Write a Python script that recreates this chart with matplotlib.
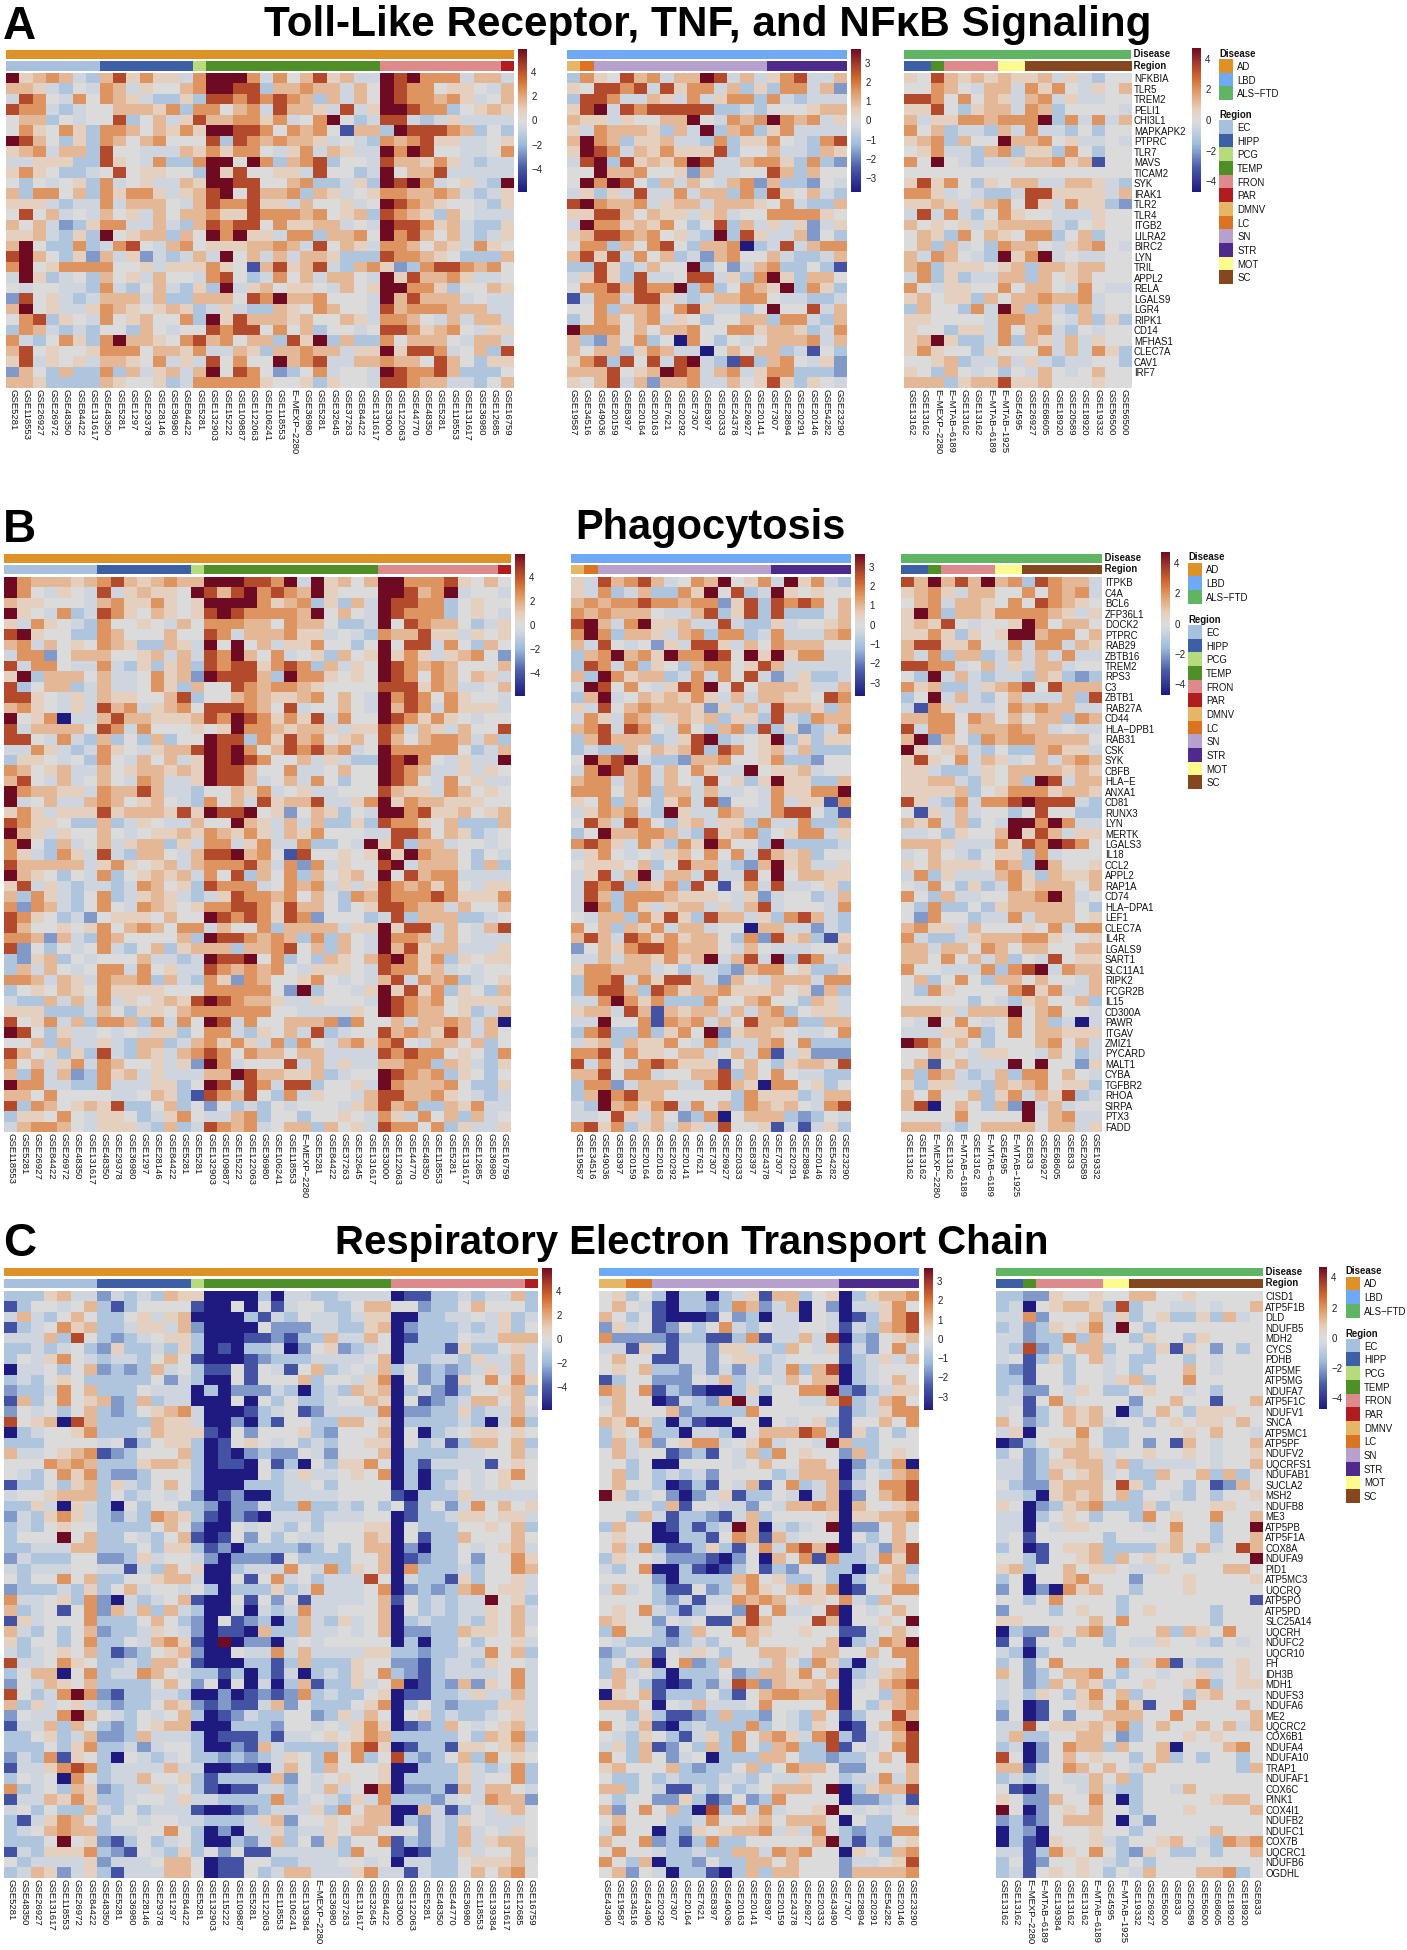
"""Three panels of pathway heatmaps across AD, LBD and ALS-FTD datasets."""

import matplotlib

matplotlib.use("Agg")
import matplotlib.pyplot as plt
import numpy as np
from matplotlib.colors import LinearSegmentedColormap, ListedColormap

W, H = 1407, 1950

# cell levels, as a share of each heatmap's colour range
LEVELS = {"0": -1.0, "1": -0.7, "2": -0.45, "3": -0.25, "4": -0.1, "5": 0.0,
          "6": 0.12, "7": 0.25, "8": 0.42, "9": 0.72, "x": 1.0}

DISEASE = {"AD": "#DE9127", "LBD": "#6FA8F5", "ALS-FTD": "#5FB562"}
REGION = {"EC": "#A6C0DE", "HIPP": "#3D5FA6", "PCG": "#B5DB7C", "TEMP": "#4F8F27",
          "FRON": "#DC8A8C", "PAR": "#B01C20", "DMNV": "#E5B666", "LC": "#DB7422",
          "SN": "#B8A0CE", "STR": "#4D2A8C", "MOT": "#FBFB8E", "SC": "#85471F"}

A_ROWS = ["NFKBIA", "TLR5", "TREM2", "PELI1", "CHI3L1", "MAPKAPK2", "PTPRC", "TLR7", "MAVS", "TICAM2",
          "SYK", "IRAK1", "TLR2", "TLR4", "ITGB2", "LILRA2", "BIRC2", "LYN", "TRIL", "APPL2", "RELA",
          "LGALS9", "LGR4", "RIPK1", "CD14", "MFHAS1", "CLEC7A", "CAV1", "IRF7", ""]
B_ROWS = ["ITPKB", "C4A", "BCL6", "ZFP36L1", "DOCK2", "PTPRC", "RAB29", "ZBTB16", "TREM2", "RPS3", "C3",
          "ZBTB1", "RAB27A", "CD44", "HLA-DPB1", "RAB31", "CSK", "SYK", "CBFB", "HLA-E", "ANXA1", "CD81",
          "RUNX3", "LYN", "MERTK", "LGALS3", "IL18", "CCL2", "APPL2", "RAP1A", "CD74", "HLA-DPA1", "LEF1",
          "CLEC7A", "IL4R", "LGALS9", "SART1", "SLC11A1", "RIPK2", "FCGR2B", "IL15", "CD300A", "PAWR",
          "ITGAV", "ZMIZ1", "PYCARD", "MALT1", "CYBA", "TGFBR2", "RHOA", "SIRPA", "PTX3", "FADD"]
C_ROWS = ["CISD1", "ATP5F1B", "DLD", "NDUFB5", "MDH2", "CYCS", "PDHB", "ATP5MF", "ATP5MG", "NDUFA7",
          "ATP5F1C", "NDUFV1", "SNCA", "ATP5MC1", "ATP5PF", "NDUFV2", "UQCRFS1", "NDUFAB1", "SUCLA2",
          "MSH2", "NDUFB8", "ME3", "ATP5PB", "ATP5F1A", "COX8A", "NDUFA9", "PID1", "ATP5MC3", "UQCRQ",
          "ATP5PO", "ATP5PD", "SLC25A14", "UQCRH", "NDUFC2", "UQCR10", "FH", "IDH3B", "MDH1", "NDUFS3",
          "NDUFA6", "ME2", "UQCRC2", "COX6B1", "NDUFA4", "NDUFA10", "TRAP1", "NDUFAF1", "COX6C", "PINK1",
          "COX4I1", "NDUFB2", "NDUFC1", "COX7B", "UQCRC1", "NDUFB6", "OGDHL"]

A_LEFT_COLS = "5281 118553 26927 26972 48350 84422 131617 48350 5281 1297 29378 28146 36980 84422 5281 132903 15222 109887 122063 106241 118553 E-MEXP-2280 36980 5281 32645 37263 84422 131617 33000 122063 44770 48350 5281 118553 131617 36980 12685 16759".split()
A_MID_COLS = "19587 34516 49036 20159 8397 20164 20163 7621 20292 7307 8397 20333 24378 26927 20141 7307 28894 20291 20146 54282 23290".split()
A_RIGHT_COLS = "13162 13162 E-MEXP-2280 E-MTAB-6189 13162 13162 E-MTAB-6189 E-MTAB-1925 4595 26927 68605 18920 20589 18920 19332 56500 56500".split()
B_LEFT_COLS = "118553 5281 26927 84422 26972 48350 131617 48350 29378 36980 1297 28146 84422 5281 5281 132903 109887 15222 122063 36980 106241 118553 E-MEXP-2280 5281 84422 37263 32645 131617 33000 122063 44770 48350 118553 5281 131617 12685 36980 16759".split()
B_MID_COLS = "19587 34516 49036 8397 20159 20164 20163 20292 20141 7621 7307 26927 20333 8397 24378 7307 20291 28894 20146 54282 23290".split()
B_RIGHT_COLS = "13162 13162 E-MEXP-2280 13162 E-MTAB-6189 13162 E-MTAB-6189 4595 E-MTAB-1925 833 26927 68605 833 20589 19332".split()
C_LEFT_COLS = "5281 48350 26927 131617 118553 26972 84422 48350 5281 36980 28146 29378 1297 84422 5281 132903 15222 109887 5281 122063 118553 106241 139384 E-MEXP-2280 36980 37263 131617 32645 84422 33000 122063 5281 48350 44770 36980 118553 139384 131617 12685 16759".split()
C_MID_COLS = "43490 19587 34516 43490 20292 7307 20164 7621 8397 49036 20163 20141 8397 20159 24378 26927 20333 43490 7307 28894 20291 54282 20146 23290".split()
C_RIGHT_COLS = "13162 13162 E-MEXP-2280 E-MTAB-6189 139384 13162 13162 E-MTAB-6189 4595 E-MTAB-1925 19332 26927 56500 833 20589 56500 68605 18920 18920 833".split()

A_LEFT_REG = [("EC", 7), ("HIPP", 7), ("PCG", 1), ("TEMP", 13), ("FRON", 9), ("PAR", 1)]
A_MID_REG = [("DMNV", 1), ("LC", 1), ("SN", 13), ("STR", 6)]
A_RIGHT_REG = [("HIPP", 2), ("TEMP", 1), ("FRON", 4), ("MOT", 2), ("SC", 8)]
B_RIGHT_REG = [("HIPP", 2), ("TEMP", 1), ("FRON", 4), ("MOT", 2), ("SC", 6)]
C_LEFT_REG = [("EC", 7), ("HIPP", 7), ("PCG", 1), ("TEMP", 14), ("FRON", 10), ("PAR", 1)]
C_MID_REG = [("DMNV", 2), ("LC", 2), ("SN", 14), ("STR", 6)]
C_RIGHT_REG = [("HIPP", 2), ("TEMP", 1), ("FRON", 5), ("MOT", 2), ("SC", 10)]

A_LEFT = """
x678743 7968664 8 xxx848579674 4x9x888477 4
7764354 8746557 8 xx9937787747 5x98856654 7
4985485 8764336 3 998989873747 5x98878645 7
9884345 5777683 8 8578 49776494 6xx98835 67 6
5773545 5935746 9 7788684 58x534 994346444 4
5865863 8875768 6 xx998 5 8 7 8 5 1 7 7 3 x99987353 4
x975363 8757855 5 9398787764543 878966445 6
6784773 9554447 6 8688546847644 x8x955445 8
4466633 9654833 8 xx5x8 378935 54 977686434 4
6865334 5956655 3 x6955664955 34 x5779444 4 4
5354563 8456447 6 xx9955 7 8 33 4 6 3 x9x845643 x
7388573 8688 646 7 9x597 7 8 3 7 6 4 5 6 8877 87 4 3 4 6
6664344 8477754 7 98896 6 4 7 5 5 6 4 5 x98765543 6
5957454 7564757 7 8669888 78 5 6 7 3 9876 3 7 5 4 4 4
7574236 8844743 7 98995 8 6 6 7 7 4 5 4 x99867433 6
6674363 x5677 37 5 x8x66488377 85 x89757434 6
7x53383 4895478 5 6667787495764 887576486 5
9x75362 7462434 7 4x574747763 3 3 988765333 7
8x56888 8556466 6 865 1 7 9 6 7 9 4 3 7 8 6 2 3 8 9 9 8 7 8 5
4x6345 3 7 5 6 4 7 5 5 4 8 9 5 3 4 8 5 7 4 7 7 5 4 x69778 6 4 4 5
5455443 8435 74 3 6 3x4 6 7 5 6 6 5 4 7 5 6 xx8863557 6
2956434 7774733 7 7759 8x7785554 x79777454 4
7x56446 8765676 3 4 6 4 3 3 7 6 5 8 7 5 5 4 978887 7 7 4 4
5893654 8567558 3 x6 9 7 7 7 6 7 5 5 7 6 4 887547 4 7 7 4
3874343 5537545 5 989958573 55 4 5 9986785 4 6 6
8435863 8x77658 9 785773 9 6 x 3 7 3 3 8 5 7 7 7 5 4 7 7 4
7956556 8885776 8 4 4 7 6 3 7 7 8 7 7 4 6 6 x69984 5 7 3 9
6946564 7765846 4 9585 5 x 7 8 9 4 4 7 7 8775975 3 6 6
2753733 8374674 7 x5985 2 3 5 8 4 5 5 4 x98897 3 3 3 5
7763333 7655634 8 88886556 3 6 5 5 4 9987744 3 5 7
"""

A_MID = """
3 8 6597847 7x9 4 7 4 6 8 9 4 4 7 5
6 5 9989 4 9 6 8 8 4 7 3 6 3 8 8 4 7 2
3 9 9844 7 6 4 8 4 6 8 8 3 8 4 3 4 4 4
6 9 x 4 9 8 9 9 9 9 9 3 3 4 3 5 5 5 6 7 7
7 6 6 4 6 5 5 7 7 x 5 4 8 7 8 x 8 7 8 4 6
6 4 8 7 7 7 6 3 7 4 x 3 7 8 3 6 8 4 4 4 4
7 x 8 7 3 6 6 7 4 4 3 8 3 6 6 8 5 4 3 8 9
6 x 9 8 4 7 6 8 6 6 6 9 3 5 5 7 4 4 3 7 6
4 9 x 3 9 6 7 6 8 x 9 4 4 7 8 8 6 3 8 3 2
5 5 x 7 7 8 5 5 6 2 7 4 4 5 5 9 7 3 7 5 5
5 x 8 x 9 5 3 7 4 7 5 4 7 8 2 7 3 3 2 5 4
4 6 3 6 4 9 4 4 8 4 7 7 3 8 3 9 6 5 7 4 3
9 x 8 7 7 8 4 6 7 7 4 7 7 7 6 5 8 4 3 3 7
6 6 9 9 7 5 7 6 6 4 6 7 4 5 5 8 8 8 8 6 5
4 x 8 8 6 7 6 8 5 3 5 9 3 7 4 6 4 6 2 4 6
6 7 9 9 8 7 8 5 6 4 3 x 3 9 6 4 4 7 2 5 3
5 8 8 3 7 5 8 9 5 3 7 7 8 0 3 4 9 4 7 8 8
7 9 6 9 4 8 5 7 3 4 2 7 8 5 5 7 4 3 3 4 7
3 3 9 6 3 4 7 5 5 x 3 5 2 4 7 8 3 3 5 3 1
4 6 9 6 3 9 4 4 5 9 9 4 6 3 8 x 6 3 7 7 5
5 8 8 9 7 9 8 8 x 3 8 3 5 8 7 6 x 3 8 6 3
1 4 8 8 4 9 9 6 4 3 4 7 7 8 8 5 4 4 3 3 4
5 5 8 3 7 7 8 5 8 9 6 4 4 3 5 x 5 5 9 4 7
3 5 8 7 5 7 8 4 6 5 3 5 5 7 7 3 8 8 4 3 7
x 8 8 8 5 7 5 7 7 8 5 5 8 8 6 7 7 6 3 4 8
7 3 2 7 5 8 3 5 0 8 5 3 5 4 5 7 7 7 8 4 7
7 5 7 7 3 6 8 7 4 4 0 5 7 5 7 7 3 4 1 5 3
6 8 9 3 9 5 9 4 9 x 4 3 1 9 3 7 8 5 4 6 2
7 7 7 9 5 6 7 x 9 8 4 7 8 4 6 8 8 3 3 3 2
6 5 7 9 4 7 2 7 7 8 4 4 7 5 6 9 6 3 6 5 4
"""

A_RIGHT = """
65976767 6 6 7 4 6 4 3 5 5
55875477 4 8 6 8 5 4 6 5 7
99858576 4 7 8 4 6 4 4 5 5
66953677 4 8 7 3 5 5 5 5 4
74668878 8 8 x 3 8 4 8 4 7
85734437 4 8 4 4 3 5 3 5 5
67837 5 5 x 7 7 8 5 6 4 4 5 4
56844 3 7 8 3 6 6 3 8 5 3 5 5
85x54344 6 7 7 8 6 7 1 5 5
55555555 5 5 5 5 5 5 5 5 5
69685 3 6 5 7 7 4 4 7 7 6 4 3
88645433 4 9 9 6 6 6 6 4 7
66764678 5 9 6 4 8 6 6 3 2
49484 3 5 8 6 5 5 4 4 4 6 5 5
75656467 7 7 7 4 3 5 6 5 5
57638576 5 8 8 3 5 7 3 5 5
57374538 7 7 5 4 6 7 8 5 4
748754 3 x 6 8 x 4 5 4 4 5 5
78366656 7 3 7 7 6 7 7 5 5
48363447 7 3 7 5 6 7 5 5 5
85466558 5 7 7 5 4 8 5 4 4
67566375 7 7 8 7 7 8 4 5 5
37553 8 4 x 7 3 7 4 3 7 4 5 5
66555548 8 7 7 5 4 7 3 6 3
65536648 5 7 8 4 3 5 4 5 5
67x63348 3 7 6 4 7 4 6 5 5
68655365 5 5 8 4 7 4 8 6 3
55673447 4 6 4 3 4 4 5 5 3
65375453 5 4 7 5 4 5 7 5 5
77736779 6 6 7 5 5 5 6 5 5
"""

B_LEFT = """
x877767 8976787 7 xxx998x4x6757 xx8889657 5
x854654 9467665 x 979x8987x6555 xx978x455 4
7665554 7866865 6 xxxx867836374 x99883565 5
x654834 9865765 6 9x98888 7x5754 x98883565 4
6486543 8556547 5 8887758 7 7 5 3 3 4 x59877534 6
9x65533 8755575 5 9847778 6 6 4 5 4 3 87796 6 4 6 5 6
7847565 8763376 4 x5x57466 8 5 5 3 5 x5994 8 5 3 7 5
4882577 7556747 4 98x75 8 4 5 6 3 7 5 6 x68646 7 8 5 2
9488544 8436367 3 9899689 8 3 7 4 6 5 x98787555 7
6x37775 7445867 2 x99973x8 8 6 5 6 5 x98587 5 7 6 4
9357734 7445863 7 5598788 7 6 5 5 5 5 9 9 9 6 8 7 4 4 5 7
9965464 7665579 3 5578766 7 8 5 7 5 4 x89858 6 5 5 4
7865464 9784678 5 9998759 4 5 5 7 5 4 x79848 6 6 6 4
x568044 7977666 7 98x9868 6 9 4 8 5 5 x98686 5 4 5 5
9477775 9848555 6 56x8876 7 7 6 4 6 6 98476 4 7 5 5 9
9954843 7353735 5 x993869 7 8 5 6 7 5 97578 8 7 4 7 3
4486434 8654677 9 x9x8579 8 9 7 8 4 5 x88888 5 3 4 7
3665453 8547574 6 x9x9855 7 4 6 4 3 3 x9x854 6 4 4 x
8756744 7567767 6 x997558 4 4 5 7 5 5 x98744 6 4 6 5
7954745 7548744 6 x997457 4 8 5 3 5 5 x98548 5 6 4 4
x877664 8779744 3 5576845 6 4 4 5 5 5 976648 7 5 6 5
x457447 8756754 3 8574967 7 9 4 4 6 8 x68776 6 6 5 5
6864666 9677769 6 x99x562 5 7 6 3 5 4 xx8966 7 5 6 7
9866533 7346544 7 55x7647 4 7 3 3 6 3 988657 3 3 3 7
x764655 7545667 6 8768647 6 8 5 5 5 4 499857 6 3 4 5
8x53745 7467736 4 8846844 8 3 3 5 4 x693 7 7 4 5 5 4
8643864 9437754 7 99x7851 9 5 5 6 5 6 x6x877 5 3 5 4
9777774 6865674 7 88897482 8 4 6 5 5 9x4777 5 3 7 3
x765354 8356767 4 8593758 3 7 5 6 7 5 x59788 4 4 4 4
6946434 4348756 3 9888458 7 8 4 6 4 6 98786 8 5 4 6 6
7386435 8346764 3 4698878 5 7 5 3 8 7 988898 6 6 6 8
8287435 8548765 6 8899869 7 7 5 3 5 6 998774 7 5 5 7
9865342 5666575 5 x989869 8 2 5 5 5 3 493777 3 3 4 5
9755656 8578758 8 4755837 7 7 7 4 6 6 x69947 5 4 7 9
8872743 8755557 3 x998787 3 8 3 7 5 4 x88747 5 4 4 4
9253545 8435736 7 7737789 5 7 3 7 5 4 x79677 4 4 4 6
3267354 5557443 4 x99x583 5 3 7 6 5 7 9x8683 6 5 6 6
3747545 8848564 4 9878785 4 6 6 6 5 4 988674 5 4 5 5
8874764 8778374 3 8628755 6 8 5 4 5 4 794878 3 4 5 6
3565765 8666655 5 8888852 x 3 5 5 4 6 x69683 6 5 3 7
4337474 8465676 9 x987764 4 6 5 5 5 4 x98785 6 6 6 6
6663334 7536657 8 8888855 4 4 4 4 6 5 x98775 6 3 4 7
9568473 8873848 5 x948557 7 7 8 2 8 5 574778 7 4 7 0
x953644 5454663 5 8843657 4 9 3 4 5 5 978769 7 4 7 5
5573744 6437734 7 8686483 8 5 4 7 8 6 895477 5 7 3 5
9756363 9437647 8 9858775 7 7 4 4 4 4 989885 6 5 3 8
8574684 8755646 2 x845559 4 7 4 6 4 4 778837 6 4 3 6
7384723 8674644 4 77x9776 6 7 3 4 5 5 x98783 6 5 3 5
x884433 8444663 5 x949849 9 3 5 5 6 4 x87778 5 3 3 6
7758555 5445763 1 9879538 4 6 5 5 4 7 997786 5 4 3 4
9387567 6933573 5 2534354 5 5 5 4 6 7 978337 6 8 4 4
3665854 6653468 5 4478355 3 5 5 6 5 4 864857 3 7 4 5
4788754 6664373 4 9878457 7 3 7 5 6 4 988583 6 4 4 6
"""

B_MID = """
6 4 9789 7 4 5 8 7 x 5 6 8 4 x 6 8 4 3 4
6 4 8 3 4 7 3 3 8 6 x 5 9 3 4 x 6 5 6 5 5
7 8 7 8 8 9 8 8 7 8 8 2 6 9 3 9 8 9 8 5 7
8 7 8 7 7 7 5 4 4 7 9 3 6 9 3 9 3 3 3 5 7
9 x 7 4 8 x 6 6 7 4 4 9 4 3 3 6 4 5 5 6 7
8 x 8 3 7 7 6 4 7 8 3 8 8 3 4 8 4 4 4 7 8
7 4 9 5 4 5 2 6 4 9 9 6 4 7 5 8 7 7 7 5 5
3 7 8 x 7 8 6 x 8 8 x 9 5 x 6 x 6 8 8 4 4
3 9 8 4 8 3 6 5 3 7 8 8 5 6 9 7 4 4 4 4 4
7 3 x 8 6 7 7 3 4 8 4 8 5 9 4 2 4 6 3 3 4
4 x 9 5 8 5 4 6 9 8 x 5 9 5 7 7 7 6 4 4 7
3 7 x 4 5 7 6 7 6 8 6 4 7 4 7 7 6 6 5 9 8
6 4 9 5 7 8 7 7 7 6 2 6 4 7 4 9 7 7 6 3 7
4 8 6 4 8 7 4 6 7 6 7 3 6 6 3 9 4 3 8 7 7
7 8 9 4 9 8 5 4 8 5 3 7 8 3 9 3 6 2 3 4 8
3 7 9 7 7 7 3 4 6 9 x 3 4 5 6 x 3 6 3 6 6
3 4 3 3 7 5 7 6 7 9 3 9 8 5 6 7 4 7 3 3 3
5 x 8 9 x 4 3 3 2 7 7 8 5 5 6 8 3 3 2 5 5
4 8 x 9 7 8 4 7 5 8 6 4 4 x 5 6 6 7 4 5 5
7 8 8 4 7 8 4 7 5 4 9 5 6 3 6 x 6 6 3 3 7
8 8 8 5 7 8 3 7 7 4 7 4 4 5 4 8 6 6 8 8 x
6 5 8 3 7 5 3 6 8 4 9 2 5 5 4 8 4 6 6 1 8
4 6 8 7 8 4 3 x 6 4 4 8 7 4 4 8 9 9 5 3 1
5 9 7 4 9 8 5 3 6 7 4 6 6 3 8 4 4 8 3 3 7
3 5 x 7 7 8 8 7 4 3 9 6 7 8 3 5 6 8 8 4 6
8 9 8 6 4 8 6 3 8 6 x 8 5 5 3 x 3 3 3 3 4
4 6 8 5 4 5 4 6 7 5 8 5 8 4 9 7 6 7 3 5 5
5 6 6 6 5 7 3 5 9 7 7 4 3 2 7 x 6 7 4 4 6
4 6 9 4 7 x 4 7 7 4 9 4 4 9 5 x 5 7 7 6 6
4 9 8 9 3 7 6 8 3 9 5 1 5 8 4 9 4 4 5 6 3
4 9 7 3 8 8 8 7 6 6 6 5 4 6 2 4 5 5 3 4 7
4 x 8 3 8 6 4 6 7 7 4 6 4 7 9 4 5 5 5 4 8
5 4 7 7 3 8 6 9 6 3 9 7 7 4 6 3 8 9 7 4 3
8 5 7 3 7 6 8 4 7 7 4 5 5 0 7 7 4 4 2 4 3
7 9 7 4 9 8 6 8 6 7 7 5 3 8 2 9 6 7 3 1 6
2 5 7 6 8 9 9 8 7 7 7 5 4 7 5 4 4 4 5 5 7
4 4 7 4 7 7 6 8 6 7 x 4 7 9 4 x 3 9 8 4 4
6 8 8 7 7 7 4 5 3 4 4 3 2 7 8 8 5 6 3 3 6
3 8 8 9 4 8 6 9 9 7 4 2 7 5 4 7 7 7 4 8 8
3 8 9 9 7 3 9 8 6 7 7 8 6 6 6 7 5 6 2 7 3
4 4 8 x 8 6 8 3 3 3 8 5 5 7 8 5 5 3 7 6 4
6 7 7 4 9 7 1 7 6 7 7 4 7 4 7 8 3 5 6 6 4
4 4 x 5 5 8 1 8 7 8 4 7 5 9 7 7 8 3 3 7 7
3 8 9 3 3 8 3 6 8 5 x 2 6 7 7 6 5 4 4 5 8
4 6 7 3 7 6 6 8 5 4 8 3 4 4 7 8 5 8 3 3 3
8 8 9 5 8 6 6 5 7 7 4 5 7 4 8 1 4 6 2 2 2
9 4 8 5 4 8 9 8 6 6 6 1 5 7 5 3 6 7 7 6 9
7 7 9 5 8 8 4 5 5 7 7 9 3 7 5 8 5 4 4 3 3
3 8 8 2 4 7 7 7 4 4 8 9 7 6 0 8 8 5 6 3 5
3 7 x 8 9 7 7 5 5 5 5 5 3 8 6 6 6 3 4 7 7
4 3 x 7 8 6 8 9 4 8 5 7 3 8 7 6 7 5 4 8 9
4 4 5 9 6 4 7 5 2 3 8 0 5 7 7 7 3 2 3 5 4
8 9 6 8 3 6 7 4 7 6 4 9 5 5 6 1 4 1 4 6 3
"""

B_RIGHT = """
9 7 x 7 9 7 x 7 8 3 9 8 7 7 4
6 7 8 6 4 7 7 5 5 8 5 8 7 8 4
5 7 8 4 7 7 6 5 8 5 9 8 7 6 5
6 x 8 3 7 7 6 8 8 8 8 7 6 4 6
6 7 6 9 5 4 5 5 6 x 8 5 7 7 5
6 6 8 6 3 6 5 6 x x 7 8 8 5 7
7 9 9 6 6 8 5 5 8 4 8 8 4 7 6
7 4 8 3 7 7 3 4 7 4 7 4 8 4 4
9 9 8 8 4 5 7 4 6 4 7 7 4 5 5
5 3 x 4 7 4 3 4 4 3 7 6 3 2 3
8 6 7 3 3 4 6 7 8 9 5 9 7 7 7
3 5 x 4 7 4 3 5 7 4 4 4 7 3 9
4 1 8 6 4 4 4 5 8 7 8 7 7 4 4
7 7 8 8 5 8 7 5 7 5 7 7 3 8 7
9 4 8 8 5 7 7 7 8 7 7 4 5 4 4
7 x 2 7 5 3 8 7 8 8 7 7 7 7 5
x 6 5 6 7 4 3 5 3 3 7 8 6 6 4
6 9 6 5 8 4 7 6 4 5 7 4 7 8 7
6 6 4 3 3 4 6 5 7 7 7 7 6 7 6
6 6 7 7 4 3 6 5 7 3 x 9 4 7 7
6 6 6 6 7 3 5 6 8 8 8 6 7 7 6
9 6 4 3 8 4 8 8 9 x 9 9 9 4 3
5 1 6 4 7 4 5 5 3 5 9 5 5 3 3
7 6 8 4 7 3 5 4 x x 8 x 8 4 4
4 4 5 3 6 5 5 7 x 6 9 7 4 6 6
7 7 7 6 4 4 4 8 6 9 8 x 9 8 5
4 5 7 5 4 3 5 6 6 3 8 4 5 5 5
6 5 7 6 6 6 5 8 7 3 x 7 5 5 6
4 8 3 6 4 4 4 7 8 6 3 7 6 6 7
5 4 8 5 3 6 3 4 8 6 7 7 7 5 7
8 5 3 7 4 4 5 5 7 7 8 x 7 4 5
5 3 8 3 3 5 3 6 7 7 7 7 7 5 3
5 2 8 5 5 3 4 4 8 4 7 7 7 5 6
7 8 6 6 4 7 5 5 5 6 5 8 4 8 8
8 4 3 3 4 6 7 7 7 8 8 6 5 5 6
7 7 4 7 7 5 8 7 5 7 7 5 5 7 7
7 7 5 8 5 7 4 7 3 5 4 9 5 6 6
8 5 5 4 4 4 8 3 8 9 x 4 8 7 7
5 7 3 5 8 5 3 7 7 5 7 5 5 4 7
5 3 8 6 5 5 5 5 8 9 6 8 4 4 7
5 5 5 5 5 3 5 4 3 6 7 5 5 7 3
7 7 7 6 4 7 7 7 x 5 7 8 5 5 4
5 4 x 5 8 5 4 5 8 5 7 3 4 0 4
4 4 4 6 6 8 3 5 8 5 7 7 6 6 6
x 9 8 5 7 5 3 5 5 5 7 8 5 7 4
5 5 7 6 5 4 6 6 5 5 4 7 5 3 4
5 7 1 5 7 4 4 4 x 5 x 5 5 2 6
7 3 8 7 4 3 4 7 3 8 8 5 7 5 4
6 3 6 6 4 4 3 7 6 7 8 5 6 6 3
7 5 8 5 5 7 3 6 8 4 7 6 9 3 4
7 9 0 5 7 5 3 7 2 x 4 7 4 5 5
5 5 5 5 8 5 5 5 5 x 5 7 8 4 4
7 7 7 4 3 5 7 7 7 7 5 7 7 4 6
"""

C_LEFT = """
3336744 2434376 6 00003044334444 0113343447 3
1355457 3135555 1 00505145533577 5523357555 3
4743575 3356467 0 00031435443466 0033445463 4
1345867 3346647 2 00005222443367 0233343463 5
4447395 3234566 3 00011213374475 0133354477 7
3343453 2633436 3 01033402562345 0333163356 4
3546854 3443575 1 00012333444457 0334436447 4
0445357 2323745 3 11515415734547 3523234647 4
3435653 3333524 3 00515557355468 0523165858 6
2334857 3335444 0 30222430343767 0342135567 3
1735856 7237344 0 00505353345576 0512347757 5
2545357 3235678 4 00013451244448 0223363447 4
9567097 3333766 4 00203155337756 0333343048 3
0345568 3334766 6 10525556325557 0503456656 5
3335555 4513566 3 01565453435566 0534137757 3
7445678 1235557 3 01023225425557 0333344557 4
5558787 3336776 3 01105130536685 0314444156 5
5435868 3223555 3 00005346445658 0303354568 5
1335367 3643575 3 00033344535555 0303454565 5
4556777 3534545 2 01200344445555 1033364444 4
3364064 3053553 3 20224338334353 5135248575 6
2436864 3243876 3 10210444344455 0133466566 4
3435655 3333575 2 00545435355566 0533355657 3
3555x57 3354357 1 01525354455576 0513375557 5
3344477 3335366 3 12033332353577 0203354567 4
2433355 2236455 4 20222153333557 0123352558 6
4344455 4414375 6 00344485483657 0833343558 7
5355857 3355677 4 00515845344495 0433163556 4
2333436 3574554 5 30333634844458 0232378566 4
8445638 2043457 1 00515251444457 1534344x56 3
7345158 2747374 3 00404348445557 0534344657 4
1645558 3335753 2 05123037436457 0343343657 4
7435357 2334654 2 01107337445457 0223376657 5
6355358 3354786 1 0x022045455555 0303353556 4
4345657 3123567 2 00544847444466 3323344857 3
9445865 3343775 1 00033137333655 2213443655 4
3577058 3448754 3 31303140343658 3213444458 4
2547657 3333575 2 50504037133645 8013272658 4
95348x8 2133443 0 02012128343356 0113346447 4
7364564 3233576 2 12114725333568 0353233366 4
25448x75 435457 3 01243355236475 0563433456 4
1447375 3235677 0 00333255454686 0123754567 4
3356347 2237444 3 01113144565687 3333353768 3
3335368 3342455 3 00217433336896 0133166567 4
2438165 3054345 3 32323465385835 9323573856 5
1446898 3444474 4 00110475375556 0033364348 3
3545085 3447556 3 13333725456556 0333364558 3
8345376 2344645 3 101144354745x8 0223174775 4
1447686 3345546 4 43333834543648 3332454877 2
4535337 4353444 1 00123444638577 0074135467 5
3146875 3554554 4 33346725565677 0324365444 5
3457877 3445585 3 02044634465775 5524374546 5
3335x56 2135345 3 00324735263558 1324374677 5
1436668 3215436 3 52511444443855 1013364557 4
5344446 2444577 5 01155334445545 0443356667 5
3476246 3144477 5 01153477444684 4143357578 5
"""

C_MID = """
5 6 3 5 3 0 3 3 0 3 4 6 1 7 7 3 5 6 0 3 6 7 7 8
5 7 5 4 1 0 3 3 2 3 8 7 2 4 7 0 5 2 0 4 4 6 8 5
7 5 3 5 1 0 0 0 1 5 2 3 0 4 4 0 5 4 0 1 3 6 8 9
2 6 4 5 1 2 5 3 5 8 4 3 5 4 4 5 5 4 1 4 3 7 8 9
8 2 2 2 2 1 3 3 1 1 3 8 1 4 4 7 4 9 0 3 2 5 6 7
4 4 1 6 4 1 4 4 2 6 6 4 4 3 7 5 4 6 1 4 2 5 8 4
5 7 5 5 1 1 4 4 2 5 6 6 3 4 5 5 5 5 1 3 4 6 4 7
5 6 5 7 3 3 2 4 2 4 2 4 3 4 8 3 7 9 0 3 4 5 5 5
1 3 5 5 2 2 2 5 4 7 3 4 5 4 7 5 7 7 0 3 4 5 7 5
8 7 5 8 1 3 2 1 0 0 3 6 3 5 5 8 8 x 2 1 3 4 6 6
4 7 5 5 0 1 4 3 2 7 x 4 0 5 5 4 4 7 9 3 4 7 8 5
5 7 5 5 5 7 2 3 3 3 3 8 5 5 5 5 5 5 1 3 4 6 8 8
7 6 8 6 3 0 3 1 0 0 5 5 0 5 4 5 6 3 1 5 5 7 5 8
3 6 5 8 3 3 0 4 4 3 0 5 7 7 7 9 8 4 1 6 3 5 3 5
3 7 4 7 2 5 6 8 8 4 5 6 8 4 5 5 4 x 7 3 3 5 5 5
5 7 4 5 5 1 2 3 1 5 4 7 3 8 5 6 5 5 2 7 3 5 6 5
5 5 3 5 0 0 5 5 5 5 4 5 7 5 5 7 7 5 0 2 4 3 8 0
5 7 3 5 3 4 3 4 2 5 5 5 5 3 4 7 7 7 0 3 5 4 7 8
5 7 5 5 3 0 1 3 1 5 4 7 1 5 8 3 4 7 1 4 5 8 8 9
x 6 3 4 5 2 0 2 4 6 1 3 3 5 4 0 4 7 0 2 5 7 8 9
5 5 5 5 3 7 1 5 5 4 4 2 5 4 7 7 8 7 0 7 5 5 6 7
5 5 3 7 4 1 3 3 2 1 4 7 3 5 5 5 5 6 0 6 6 7 7 8
3 7 5 5 0 1 3 1 3 4 x 7 0 4 3 4 5 x 0 2 2 5 7 5
5 6 5 5 0 0 3 3 1 5 8 7 1 7 4 5 5 5 0 5 3 5 7 5
5 7 4 8 3 1 1 3 6 3 1 5 8 4 8 9 7 x 0 3 4 2 7 9
3 6 5 5 4 2 2 2 1 0 2 5 0 7 5 8 1 8 3 3 4 8 6 9
4 3 5 8 0 0 3 1 0 1 3 5 1 3 2 5 5 3 3 0 3 5 7 3
5 5 5 5 2 0 3 3 3 3 7 8 5 6 3 3 5 3 0 3 5 6 7 4
4 7 4 5 3 1 1 5 2 3 6 8 6 5 7 8 6 8 0 1 5 5 8 8
5 5 5 5 3 2 4 1 4 4 8 7 8 7 5 6 6 5 8 4 3 7 5 5
5 6 5 8 4 3 1 3 5 5 2 9 5 8 4 4 5 9 0 5 4 5 7 5
7 6 5 5 2 5 4 5 1 1 6 9 7 5 5 5 9 7 0 5 5 6 5 x
3 8 5 5 3 1 3 7 5 5 8 7 6 5 5 6 5 5 1 1 4 5 7 5
5 4 3 3 3 2 3 4 3 5 5 7 5 5 5 5 5 7 0 3 4 8 7 x
2 3 5 5 1 5 4 6 5 3 5 5 7 7 6 5 7 7 5 5 7 5 8 8
3 5 3 7 0 5 8 2 3 7 5 5 4 7 5 3 8 6 3 0 4 5 5 8
3 7 4 5 3 0 3 3 3 5 2 3 7 7 6 8 5 7 0 3 4 6 7 8
5 7 5 3 1 0 1 3 2 4 9 8 2 7 6 6 7 5 0 4 5 7 8 9
0 6 5 7 1 3 3 3 5 3 1 5 7 8 8 7 7 8 0 5 5 3 7 8
7 7 7 5 0 5 4 7 4 4 4 5 8 5 5 5 5 8 0 5 3 6 7 8
5 5 3 6 3 1 1 2 3 7 3 3 2 5 4 3 7 5 1 3 5 5 9 7
8 5 4 7 1 0 3 4 3 3 3 8 3 5 4 3 6 5 0 1 5 7 8 x
5 4 3 6 5 3 1 4 6 3 8 5 7 8 6 4 8 9 3 1 4 5 7 9
4 6 3 7 1 2 5 3 7 3 8 5 3 7 8 3 3 9 1 5 4 5 8 9
8 5 3 7 5 2 4 5 0 3 3 3 7 7 5 3 3 2 3 3 5 7 5 9
6 7 5 5 5 7 3 2 3 3 5 7 3 5 8 7 7 5 2 2 5 5 5 7
5 3 3 5 3 4 3 3 3 4 4 3 5 4 4 6 5 5 3 4 4 8 4 7
7 7 3 5 4 1 1 4 3 5 3 4 5 7 7 7 5 x 0 3 6 7 7 9
5 3 5 5 2 2 6 3 1 2 5 2 3 8 5 5 5 5 0 2 2 3 4 1
7 2 5 8 5 7 3 0 9 3 8 4 8 4 5 5 6 x 5 4 5 4 5 6
5 7 5 5 5 3 3 4 8 5 5 6 7 5 7 7 7 5 0 5 3 3 5 5
4 8 5 5 0 3 2 6 5 6 7 7 8 4 6 4 8 5 3 2 3 3 8 8
7 5 5 8 2 3 1 3 8 3 3 5 5 5 5 5 7 x 3 1 3 2 5 6
5 8 5 5 4 3 3 4 3 3 7 7 4 8 7 8 5 5 0 6 5 3 7 8
8 5 3 7 0 3 3 2 5 3 3 7 7 5 7 5 5 5 2 4 4 5 6 9
5 7 2 5 4 0 3 3 1 0 3 7 3 7 7 5 5 5 2 7 7 7 7 8
"""

C_RIGHT = """
3 3 2 2 6 5 5 6 5 5 7 7 5 5 6 5 5 5 5 5
3 4 0 5 6 7 7 6 3 9 3 5 5 4 4 5 4 5 5 7
4 4 8 2 5 5 5 7 4 6 3 5 6 3 3 6 3 7 4 5
3 4 2 3 6 5 6 8 4 x 5 3 5 5 5 5 5 5 5 5
4 4 2 3 3 8 3 7 5 5 3 6 5 5 3 6 5 5 5 5
4 3 9 2 3 5 7 7 3 5 5 3 6 1 6 5 2 5 3 5
4 5 1 3 6 3 5 7 4 5 3 3 5 5 3 5 4 5 5 5
3 2 1 5 5 3 5 5 4 5 3 5 5 5 7 5 4 5 5 5
3 3 1 5 5 3 5 5 4 6 7 3 5 5 8 5 5 5 5 5
3 4 2 2 5 4 6 5 3 3 5 6 5 5 4 5 3 5 5 5
4 4 1 5 8 4 5 5 5 5 2 5 5 7 5 5 1 5 5 7
4 5 1 3 5 7 6 7 5 0 3 5 7 5 3 6 6 6 5 5
7 5 2 3 5 7 6 7 4 5 5 3 5 6 5 6 6 5 7 5
4 6 0 5 5 5 8 5 3 3 5 5 5 5 6 5 7 5 5 4
0 1 3 5 6 6 7 5 3 3 5 2 5 1 7 5 4 5 5 7
3 5 2 3 5 7 7 6 4 5 5 6 5 5 6 5 4 5 5 6
4 4 2 3 6 6 7 7 4 7 3 4 4 4 4 5 4 5 5 7
4 4 2 3 7 5 6 7 4 5 3 3 7 5 5 7 3 7 3 5
5 3 2 2 6 7 7 7 5 9 6 3 5 5 3 5 1 2 7 5
4 4 3 0 6 7 6 7 5 7 3 5 5 4 3 5 3 5 5 6
6 5 0 2 3 6 7 8 3 3 3 6 3 5 5 5 6 6 5 5
4 4 0 3 5 6 5 3 5 5 3 8 5 6 5 5 8 5 5 7
4 4 0 5 4 6 6 5 5 5 5 4 5 8 5 5 3 5 5 x
4 5 1 5 5 5 5 5 3 5 5 5 5 7 5 5 3 5 5 7
3 5 0 1 5 6 6 7 3 3 3 3 6 7 5 7 4 5 9 7
5 5 3 1 5 5 6 7 3 7 5 6 5 5 3 5 5 5 5 x
6 7 3 5 5 7 5 6 6 5 4 4 6 5 5 5 5 7 7 5
3 5 0 5 5 7 8 5 5 5 2 5 5 5 6 5 5 5 5 6
2 5 0 2 0 8 6 7 5 5 3 5 5 5 6 5 5 5 5 5
5 5 3 5 8 5 5 5 5 3 5 5 5 5 5 5 5 5 5 1
2 5 5 5 3 5 6 5 5 3 5 6 5 5 5 5 3 5 5 5
6 6 5 5 5 5 5 7 5 8 5 5 5 5 5 5 3 5 5 5
0 3 2 2 6 5 7 8 3 5 5 5 7 3 7 6 5 8 5 5
1 5 1 5 5 3 5 5 3 5 4 4 6 5 5 4 3 5 4 5
4 3 0 3 5 5 5 5 5 5 5 5 5 5 5 5 5 5 5 5
3 5 2 5 8 5 5 5 5 8 4 6 8 1 4 3 3 5 6 5
7 5 2 3 5 7 7 8 5 3 5 5 4 5 5 6 4 5 6 5
4 5 2 3 7 5 7 6 3 5 5 6 5 5 6 8 3 5 6 6
4 5 3 6 5 3 6 8 5 7 3 5 5 5 3 6 7 5 5 5
3 5 0 1 5 5 6 7 5 8 6 1 5 5 8 5 5 5 7 5
2 5 0 1 5 2 5 5 7 7 7 5 5 8 5 5 5 5 5 7
4 4 9 5 6 6 6 7 6 8 3 5 7 5 5 7 5 7 4 7
4 7 3 3 5 5 7 7 5 2 3 5 5 5 6 5 6 5 5 5
3 4 0 2 5 8 7 7 3 7 5 5 7 0 5 5 5 7 8 5
9 5 0 2 5 7 5 6 5 5 3 5 7 3 5 3 5 5 3 5
7 7 1 4 5 8 7 5 7 5 4 7 5 5 5 5 5 5 3 7
3 4 3 4 5 4 4 7 5 7 3 5 5 5 5 5 5 5 5 5
5 1 0 2 5 5 4 7 4 3 3 5 5 4 7 5 5 5 5 5
6 5 2 2 7 5 5 8 5 0 3 5 5 5 5 5 6 7 7 5
x 5 0 2 5 6 5 7 5 5 3 5 5 5 6 5 5 5 5 7
2 3 1 2 5 7 7 7 5 0 4 2 5 5 5 5 5 5 5 5
0 3 2 0 5 5 5 6 5 5 3 5 5 5 5 5 7 5 5 5
0 3 1 0 6 5 5 6 4 3 5 5 6 7 5 4 3 8 7 8
4 4 1 3 8 6 5 8 5 3 2 6 5 3 3 5 3 5 5 7
3 5 1 2 5 5 6 5 4 3 5 3 5 5 5 5 5 5 5 5
3 4 1 5 6 5 6 5 3 5 4 7 5 5 5 7 7 8 3 5
"""

CMAP = LinearSegmentedColormap.from_list(
    "bluered",
    [(0.0, "#1F1A80"), (0.17, "#4A5BA8"), (0.33, "#9DBBDC"), (0.46, "#D2D8DF"), (0.5, "#DCDCDC"),
     (0.58, "#E8CDB8"), (0.7, "#DF9A66"), (0.8, "#D0662E"), (0.9, "#A23A2C"), (1.0, "#6E0A22")],
)

plt.rcParams["font.family"] = ["Liberation Sans", "DejaVu Sans"]


def decode(block, n_cols):
    rows = []
    for line in block.strip().splitlines():
        chars = line.replace(" ", "")
        chars = (chars + "5" * n_cols)[:n_cols]
        rows.append([LEVELS[c] for c in chars])
    return np.array(rows)


def px_axes(fig, x0, y0, x1, y1):
    return fig.add_axes([x0 / W, 1 - y1 / H, (x1 - x0) / W, (y1 - y0) / H])


def minus(s):
    return s.replace("-", "\u2212")


def col_label(c):
    return minus(c) if c.startswith("E-") else "GSE" + c


def strip(ax):
    for s in ax.spines.values():
        s.set_visible(False)
    ax.tick_params(length=0)


def annot_bar(fig, box, colors, widths, label=None):
    ax = px_axes(fig, *box)
    ids = np.repeat(np.arange(len(colors)), widths)[None, :]
    ax.imshow(ids, aspect="auto", cmap=ListedColormap(colors), interpolation="nearest")
    strip(ax)
    ax.set_xticks([])
    ax.set_yticks([])
    if label:
        ax.text(1.0, 0.5, " " + label, transform=ax.transAxes, va="center", ha="left",
                fontsize=6.9, fontweight="bold", color="#111111")


def heatmap(fig, x0, x1, y0, y1, block, cols, regs, disease, vmax, rows=None, tops=(0, 0, 0, 0)):
    data = decode(block, len(cols)) * vmax
    ax = px_axes(fig, x0, y0, x1, y1)
    im = ax.imshow(data, aspect="auto", cmap=CMAP, vmin=-vmax, vmax=vmax, interpolation="nearest")
    strip(ax)
    ax.set_xticks(range(len(cols)))
    ax.set_xticklabels([col_label(c) for c in cols], rotation=-90, fontsize=6.8, color="#111111")
    ax.tick_params(axis="x", pad=1)
    if rows:
        ax.yaxis.tick_right()
        ax.set_yticks(range(len(rows)))
        ax.set_yticklabels([minus(r) for r in rows], fontsize=6.9, color="#111111")
        ax.tick_params(axis="y", pad=2)
    else:
        ax.set_yticks([])
    d0, d1, r0, r1 = tops
    annot_bar(fig, (x0, d0, x1, d1), [DISEASE[disease]], [1], "Disease" if rows else None)
    annot_bar(fig, (x0, r0, x1, r1), [REGION[r] for r, _ in regs], [n for _, n in regs],
              "Region" if rows else None)
    return im


def cbar(fig, im, box, ticks):
    cax = px_axes(fig, *box)
    cb = fig.colorbar(im, cax=cax, ticks=ticks)
    cb.outline.set_visible(False)
    cb.ax.tick_params(length=0, labelsize=7, pad=3, labelcolor="#222222")


def legend_block(fig, x, y0, title, names, palette):
    step = 13.68
    ax = px_axes(fig, x, y0, x + 14, y0 + step * len(names))
    ax.barh(range(len(names)), [1] * len(names), height=1.0, color=[palette[n] for n in names])
    ax.set_xlim(0, 1)
    ax.set_ylim(len(names) - 0.5, -0.5)
    strip(ax)
    ax.set_xticks([])
    ax.yaxis.tick_right()
    ax.set_yticks(range(len(names)))
    ax.set_yticklabels([minus(n) for n in names], fontsize=6.9, color="#111111")
    ax.tick_params(axis="y", pad=3)
    ax.text(0, 1.0, title, transform=ax.transAxes, va="bottom", ha="left", fontsize=6.9,
            fontweight="bold", color="#111111")


def panel(fig, spec):
    tops = spec["tops"]
    y0, y1 = spec["y"]
    for key, disease, vmax, ticks in (("left", "AD", 5.95, [-4, -2, 0, 2, 4]),
                                      ("mid", "LBD", 3.7, [-3, -2, -1, 0, 1, 2, 3]),
                                      ("right", "ALS-FTD", 4.7, [-4, -2, 0, 2, 4])):
        part = spec[key]
        im = heatmap(fig, part["x"][0], part["x"][1], y0, y1, part["data"], part["cols"], part["regs"],
                     disease, vmax, rows=spec["rows"] if key == "right" else None, tops=tops)
        cbar(fig, im, part["cbar"], ticks)
    lx, dy, ry = spec["legend"]
    legend_block(fig, lx, dy, "Disease", list(DISEASE), DISEASE)
    legend_block(fig, lx, ry, "Region", list(REGION), REGION)


def main():
    fig = plt.figure(figsize=(W / 100, H / 100), dpi=100)

    panel(fig, {
        "y": (73, 388), "tops": (49.5, 59, 61, 71), "rows": A_ROWS, "legend": (1219, 59, 120),
        "left": {"x": (6, 514), "data": A_LEFT, "cols": A_LEFT_COLS, "regs": A_LEFT_REG,
                 "cbar": (518, 49, 527, 192)},
        "mid": {"x": (566.5, 846), "data": A_MID, "cols": A_MID_COLS, "regs": A_MID_REG,
                "cbar": (851, 49, 861, 192)},
        "right": {"x": (904, 1131), "data": A_RIGHT, "cols": A_RIGHT_COLS, "regs": A_RIGHT_REG,
                  "cbar": (1191.5, 48, 1201, 192)},
    })
    panel(fig, {
        "y": (577, 1132), "tops": (553.5, 563, 565, 574), "rows": B_ROWS, "legend": (1188, 562.5, 625),
        "left": {"x": (4, 510.7), "data": B_LEFT, "cols": B_LEFT_COLS, "regs": A_LEFT_REG,
                 "cbar": (515, 553.5, 525, 696)},
        "mid": {"x": (571, 850.7), "data": B_MID, "cols": B_MID_COLS, "regs": A_MID_REG,
                "cbar": (855, 553.5, 865, 696)},
        "right": {"x": (901.4, 1102), "data": B_RIGHT, "cols": B_RIGHT_COLS, "regs": B_RIGHT_REG,
                  "cbar": (1160.8, 552, 1170, 695)},
    })
    panel(fig, {
        "y": (1291, 1878), "tops": (1267.6, 1276.5, 1279, 1288), "rows": C_ROWS,
        "legend": (1345.6, 1276.5, 1338.8),
        "left": {"x": (4, 538), "data": C_LEFT, "cols": C_LEFT_COLS, "regs": C_LEFT_REG,
                 "cbar": (542, 1267.6, 552, 1410)},
        "mid": {"x": (599, 919), "data": C_MID, "cols": C_MID_COLS, "regs": C_MID_REG,
                "cbar": (923.5, 1267.6, 933, 1410)},
        "right": {"x": (996, 1262.7), "data": C_RIGHT, "cols": C_RIGHT_COLS, "regs": C_RIGHT_REG,
                  "cbar": (1318.5, 1266.6, 1327, 1409)},
    })

    for text, cx, cy, size in (("Toll-Like Receptor, TNF, and NF\u03baB Signaling", 708, 25, 30.4),
                               ("Phagocytosis", 710, 528, 29.9),
                               ("Respiratory Electron Transport Chain", 692, 1243, 28.9)):
        fig.text(cx / W, 1 - cy / H, text, ha="center", va="center", fontsize=size, fontweight="bold")
    for text, x, cy in (("A", 3, 27), ("B", 3, 530), ("C", 3, 1244)):
        fig.text(x / W, 1 - cy / H, text, ha="left", va="center", fontsize=33, fontweight="bold")

    fig.savefig("out.png", dpi=100)


if __name__ == "__main__":
    main()
